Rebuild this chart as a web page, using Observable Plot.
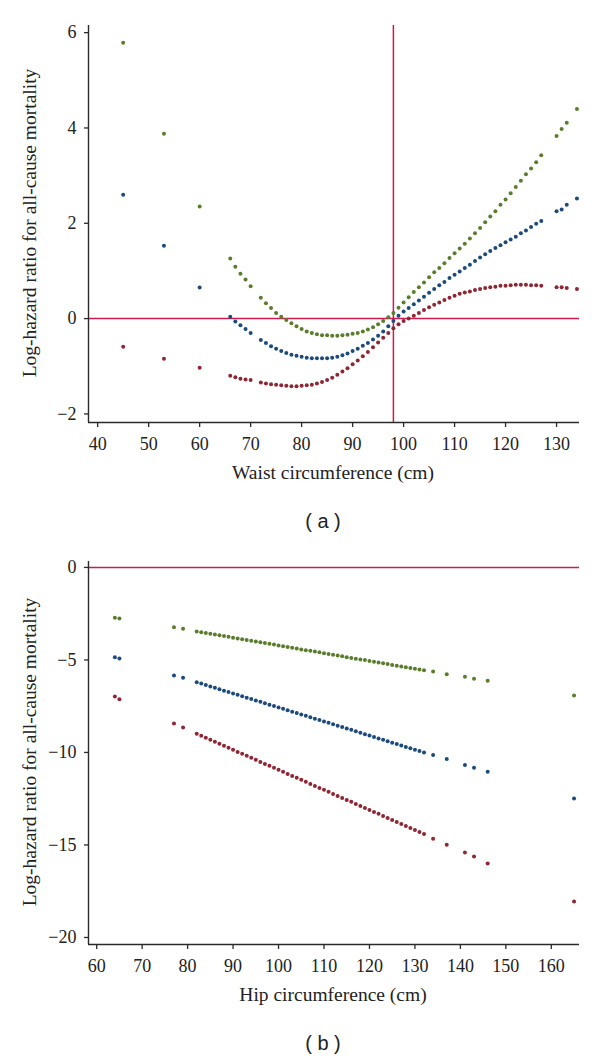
<!DOCTYPE html>
<html>
<head>
<meta charset="utf-8">
<script src="https://cdn.jsdelivr.net/npm/d3@7"></script>
<script src="https://cdn.jsdelivr.net/npm/@observablehq/plot@0.6"></script>
<style>
  html, body { margin: 0; padding: 0; background: #fff; }
  #page { position: relative; width: 600px; height: 1058px; overflow: hidden; background: #fff; }
  .panel { position: absolute; left: 0; }
  #page svg, #page svg text { font-family: "Liberation Serif", serif !important; }
  #page svg text { font-size: 18px !important; }
  .title { position: absolute; font-family: "Liberation Serif", serif; font-size: 19.5px; color: #222; white-space: nowrap; transform: translate(-50%, -50%); }
  .ytitle { transform: translate(-50%, -50%) rotate(-90deg); }
  .tag { position: absolute; font-family: "Liberation Sans", sans-serif; font-size: 20px; color: #222; white-space: nowrap; transform: translate(-50%, -50%); }
</style>
</head>
<body>
<div id="page">
  <div class="panel" id="panelA" style="top:0px"></div>
  <div class="panel" id="panelB" style="top:540px"></div>
  <div class="title ytitle" style="left:30px; top:223px">Log-hazard ratio for all-cause mortality</div>
  <div class="title" style="left:333px; top:473px">Waist circumference (cm)</div>
  <div class="tag" style="left:323px; top:521px">( a )</div>
  <div class="title ytitle" style="left:30px; top:752px">Log-hazard ratio for all-cause mortality</div>
  <div class="title" style="left:333px; top:995px">Hip circumference (cm)</div>
  <div class="tag" style="left:323px; top:1043px">( b )</div>
</div>
<script>
// ---------- Panel (a): waist circumference ----------
const waistX = [45, 53, 60, 66, 67, 68, 69, 70,
  72, 73, 74, 75, 76, 77, 78, 79, 80, 81,
  82, 83, 84, 85, 86, 87, 88, 89, 90, 91,
  92, 93, 94, 95, 96, 97, 98, 99, 100, 101,
  102, 103, 104, 105, 106, 107, 108, 109, 110, 111,
  112, 113, 114, 115, 116, 117, 118, 119, 120, 121,
  122, 123, 124, 125, 126, 127,
  130, 131, 132, 134];
const waistGreen = [5.79, 3.88, 2.35, 1.26, 1.09, 0.94, 0.82, 0.68,
  0.44, 0.32, 0.22, 0.12, 0.04, -0.03, -0.10, -0.16, -0.22, -0.27,
  -0.30, -0.33, -0.35, -0.35, -0.36, -0.36, -0.35, -0.34, -0.32, -0.30,
  -0.27, -0.23, -0.18, -0.12, -0.05, 0.03, 0.12, 0.23, 0.34, 0.45,
  0.56, 0.66, 0.76, 0.87, 0.97, 1.06, 1.16, 1.27, 1.37, 1.47,
  1.57, 1.68, 1.79, 1.90, 2.02, 2.14, 2.25, 2.39, 2.50, 2.63,
  2.76, 2.89, 3.03, 3.15, 3.28, 3.43,
  3.83, 3.98, 4.11, 4.40];
const waistBlue = [2.60, 1.53, 0.65, 0.04, -0.06, -0.14, -0.22, -0.30,
  -0.45, -0.51, -0.58, -0.63, -0.68, -0.72, -0.76, -0.78, -0.80, -0.82,
  -0.83, -0.83, -0.83, -0.83, -0.82, -0.80, -0.77, -0.73, -0.68, -0.63,
  -0.57, -0.51, -0.44, -0.36, -0.27, -0.16, -0.05, 0.06, 0.15, 0.22,
  0.30, 0.38, 0.46, 0.54, 0.62, 0.70, 0.77, 0.85, 0.92, 0.99,
  1.06, 1.13, 1.21, 1.28, 1.35, 1.42, 1.48, 1.54, 1.60, 1.66,
  1.72, 1.79, 1.85, 1.92, 1.99, 2.05,
  2.25, 2.29, 2.39, 2.52];
const waistRed = [-0.59, -0.84, -1.03, -1.20, -1.23, -1.26, -1.28, -1.29,
  -1.34, -1.36, -1.38, -1.39, -1.40, -1.41, -1.42, -1.42, -1.41, -1.40,
  -1.39, -1.36, -1.33, -1.29, -1.24, -1.18, -1.11, -1.04, -0.96, -0.88,
  -0.79, -0.70, -0.60, -0.50, -0.40, -0.30, -0.20, -0.12, -0.05, 0.00,
  0.06, 0.12, 0.18, 0.24, 0.29, 0.34, 0.39, 0.44, 0.48, 0.52,
  0.55, 0.57, 0.60, 0.62, 0.64, 0.66, 0.67, 0.69, 0.69, 0.70,
  0.71, 0.71, 0.71, 0.70, 0.70, 0.69,
  0.66, 0.66, 0.64, 0.62];
const waistTicksX = [40, 50, 60, 70, 80, 90, 100, 110, 120, 130];
const waistTicksY = [-2, 0, 2, 4, 6];
const waistDomainX = [38.2, 134.5];
const waistDomainY = [-2.18, 6.15];
const waistRefX = [98];
const waistRefY = [0];

// ---------- Panel (b): hip circumference ----------
const hipX = [64, 65, 77, 79,
  82, 83, 84, 85, 86, 87, 88, 89, 90, 91,
  92, 93, 94, 95, 96, 97, 98, 99, 100, 101,
  102, 103, 104, 105, 106, 107, 108, 109, 110, 111,
  112, 113, 114, 115, 116, 117, 118, 119, 120, 121,
  122, 123, 124, 125, 126, 127, 128, 129, 130, 131,
  132, 134, 137, 141, 143, 146, 165];
const hipGreen = [-2.72, -2.76, -3.24, -3.32,
  -3.46, -3.50, -3.54, -3.59, -3.63, -3.67, -3.71, -3.75, -3.80, -3.84,
  -3.88, -3.92, -3.96, -4.01, -4.05, -4.09, -4.13, -4.17, -4.22, -4.26,
  -4.30, -4.34, -4.38, -4.43, -4.47, -4.51, -4.55, -4.59, -4.64, -4.68,
  -4.72, -4.76, -4.80, -4.85, -4.89, -4.93, -4.97, -5.01, -5.06, -5.10,
  -5.14, -5.18, -5.22, -5.27, -5.31, -5.35, -5.39, -5.43, -5.48, -5.52,
  -5.56, -5.62, -5.77, -5.91, -6.02, -6.13, -6.92];
const hipBlue = [-4.85, -4.92, -5.84, -5.96,
  -6.20, -6.28, -6.35, -6.43, -6.50, -6.58, -6.66, -6.73, -6.81, -6.88,
  -6.96, -7.04, -7.11, -7.19, -7.26, -7.34, -7.42, -7.49, -7.57, -7.64,
  -7.72, -7.80, -7.87, -7.95, -8.02, -8.10, -8.18, -8.25, -8.33, -8.40,
  -8.48, -8.56, -8.63, -8.71, -8.78, -8.86, -8.94, -9.01, -9.09, -9.16,
  -9.24, -9.32, -9.39, -9.47, -9.54, -9.62, -9.70, -9.77, -9.85, -9.92,
  -10.00, -10.14, -10.36, -10.68, -10.83, -11.05, -12.49];
const hipRed = [-6.97, -7.12, -8.43, -8.65,
  -8.99, -9.10, -9.21, -9.32, -9.42, -9.53, -9.64, -9.75, -9.86, -9.97,
  -10.07, -10.18, -10.29, -10.40, -10.51, -10.62, -10.72, -10.83, -10.94, -11.05,
  -11.16, -11.27, -11.37, -11.48, -11.59, -11.70, -11.81, -11.92, -12.02, -12.13,
  -12.24, -12.35, -12.46, -12.57, -12.67, -12.78, -12.89, -13.00, -13.11, -13.22,
  -13.32, -13.43, -13.54, -13.65, -13.76, -13.87, -13.97, -14.08, -14.19, -14.30,
  -14.41, -14.67, -14.99, -15.41, -15.62, -16.00, -18.05];
const hipTicksX = [60, 70, 80, 90, 100, 110, 120, 130, 140, 150, 160];
const hipTicksY = [-20, -15, -10, -5, 0];
const hipDomainX = [58.2, 166.2];
const hipDomainY = [-20.38, 0.32];
const hipRefY = [0];

// ---------- styling ----------
const seriesNames = ["upper", "estimate", "lower"];
const seriesColors = ["#5a7d2d", "#1c4a7a", "#8c2733"];
const refColor = "#cc1c4e";
const axisColor = "#2a2a2a";

function rows(xs, ys) {
  const out = [];
  ys.forEach((vals, s) => vals.forEach((v, i) => out.push({x: xs[i], y: v, s: seriesNames[s]})));
  return out;
}

function panel(opts) {
  return Plot.plot({
    width: 600,
    height: opts.height,
    marginLeft: 88,
    marginRight: opts.marginRight,
    marginTop: opts.marginTop,
    marginBottom: opts.marginBottom,
    style: {fontFamily: "'Liberation Serif', serif", fontSize: "18px", color: "#222", background: "transparent"},
    x: {domain: opts.domainX},
    y: {domain: opts.domainY},
    color: {domain: seriesNames, range: seriesColors},
    marks: [
      ...opts.refs,
      Plot.ruleX([opts.domainX[0]], {stroke: axisColor, strokeWidth: 1.4}),
      Plot.ruleY([opts.domainY[0]], {stroke: axisColor, strokeWidth: 1.4}),
      Plot.axisX({ticks: opts.ticksX, tickSize: 5, tickPadding: 10, label: null, stroke: axisColor, strokeWidth: 1.3, fontSize: 18}),
      Plot.axisY({ticks: opts.ticksY, tickSize: 4, tickPadding: 8, label: null, stroke: axisColor, strokeWidth: 1.3, fontSize: 18}),
      Plot.dot(opts.data, {x: "x", y: "y", fill: "s", r: 2})
    ]
  });
}

document.getElementById("panelA").append(panel({
  height: 490, marginTop: 25, marginBottom: 68, marginRight: 21,
  domainX: waistDomainX, domainY: waistDomainY,
  ticksX: waistTicksX, ticksY: waistTicksY,
  refs: [
    Plot.ruleY(waistRefY, {stroke: refColor, strokeWidth: 1.5}),
    Plot.ruleX(waistRefX, {stroke: refColor, strokeWidth: 1.5})
  ],
  data: rows(waistX, [waistGreen, waistBlue, waistRed])
}));

document.getElementById("panelB").append(panel({
  height: 470, marginTop: 21, marginBottom: 66, marginRight: 21,
  domainX: hipDomainX, domainY: hipDomainY,
  ticksX: hipTicksX, ticksY: hipTicksY,
  refs: [
    Plot.ruleY(hipRefY, {stroke: refColor, strokeWidth: 1.5})
  ],
  data: rows(hipX, [hipGreen, hipBlue, hipRed])
}));
</script>
</body>
</html>
